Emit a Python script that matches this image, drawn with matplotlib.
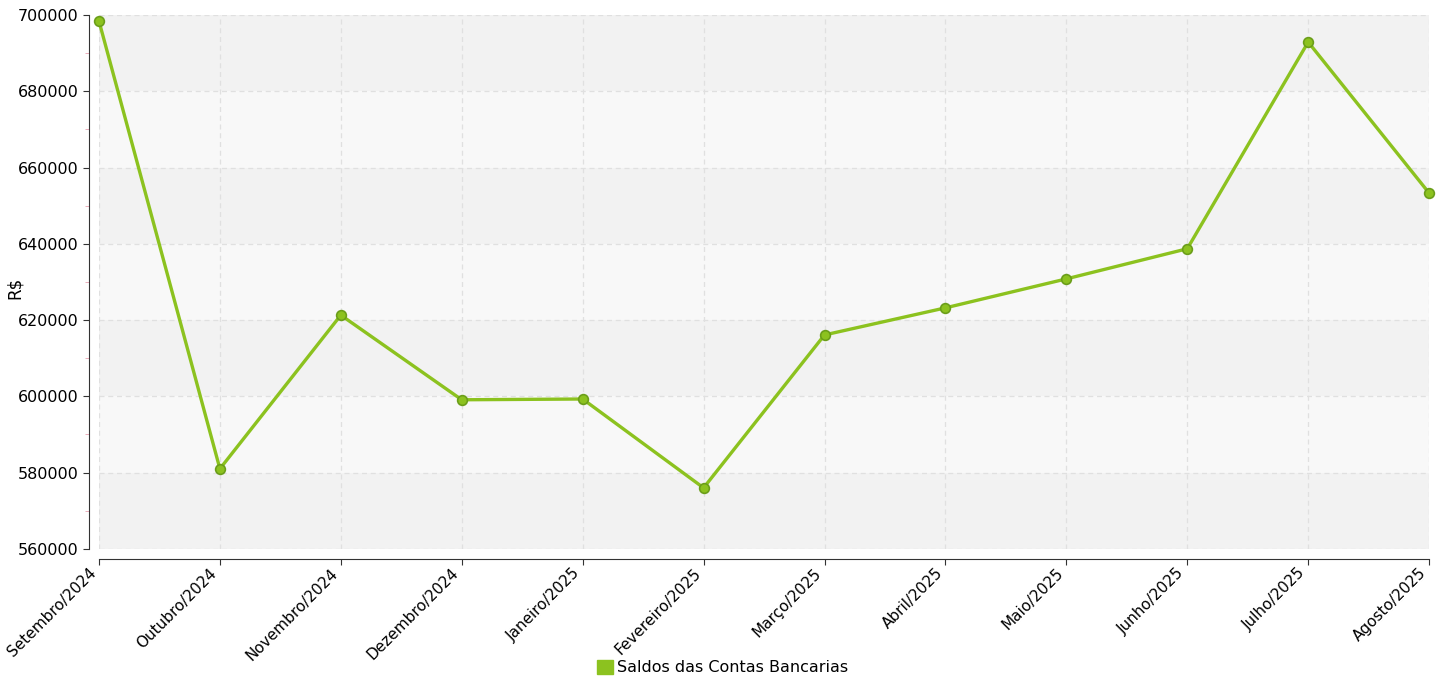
import matplotlib
matplotlib.use("Agg")
import matplotlib.pyplot as plt
from matplotlib.patches import Patch
from matplotlib.ticker import MultipleLocator

meses = ["Setembro/2024", "Outubro/2024", "Novembro/2024", "Dezembro/2024",
         "Janeiro/2025", "Fevereiro/2025", "Março/2025", "Abril/2025",
         "Maio/2025", "Junho/2025", "Julho/2025", "Agosto/2025"]
saldos = [698400, 581000, 621300, 599100, 599300, 576000,
          616100, 623200, 630800, 638700, 692900, 653300]

verde = "#8cc21f"
verde_escuro = "#6b9e1a"

fig = plt.figure(figsize=(14.45, 6.81), dpi=100)
ax = fig.add_axes([0.0685, 0.194, 0.9205, 0.784])

# spines first: set_position resets the ticks
for s in ["top", "right"]:
    ax.spines[s].set_visible(False)
ax.spines["left"].set_position(("outward", 7))
ax.spines["bottom"].set_position(("outward", 7))
ax.spines["left"].set_color("#333333")
ax.spines["bottom"].set_color("#333333")

# faixas alternadas de fundo
for i, y0 in enumerate(range(560000, 700000, 20000)):
    ax.axhspan(y0, y0 + 20000, color="#f2f2f2" if i % 2 == 0 else "#f8f8f8", zorder=0, lw=0)

x = list(range(len(meses)))
ax.plot(x, saldos, color=verde, lw=2.4, marker="o", ms=7,
        mfc=verde, mec=verde_escuro, mew=1.2, zorder=3, clip_on=False)

ax.set_xlim(0, len(meses) - 1)
ax.set_ylim(560000, 700000)
ax.yaxis.set_major_locator(MultipleLocator(20000))
ax.yaxis.set_minor_locator(MultipleLocator(10000))
ax.set_xticks(x)
ax.set_xticklabels(meses)
ax.tick_params(axis="both", which="major", length=4, color="#333333", labelsize=11.5)
ax.tick_params(axis="x", which="major", pad=1, labelsize=11)
ax.tick_params(axis="y", which="minor", length=3, color="#e8a0b0")
plt.setp(ax.get_xticklabels(), rotation=45, ha="right", va="top", rotation_mode="default")

ax.grid(True, which="major", color="#e0e0e0", ls=(0, (4, 3)), lw=0.9)
ax.set_axisbelow(True)

fig.text(0.0105, 0.578, "R$", rotation=90, fontsize=12, ha="center", va="center")

fig.legend(handles=[Patch(color=verde, label="Saldos das Contas Bancarias")],
           loc="lower center", bbox_to_anchor=(0.5, -0.013), frameon=False,
           fontsize=11.5, handlelength=1.0, handleheight=1.0, handletextpad=0.2)

fig.savefig("out.png", dpi=100)
